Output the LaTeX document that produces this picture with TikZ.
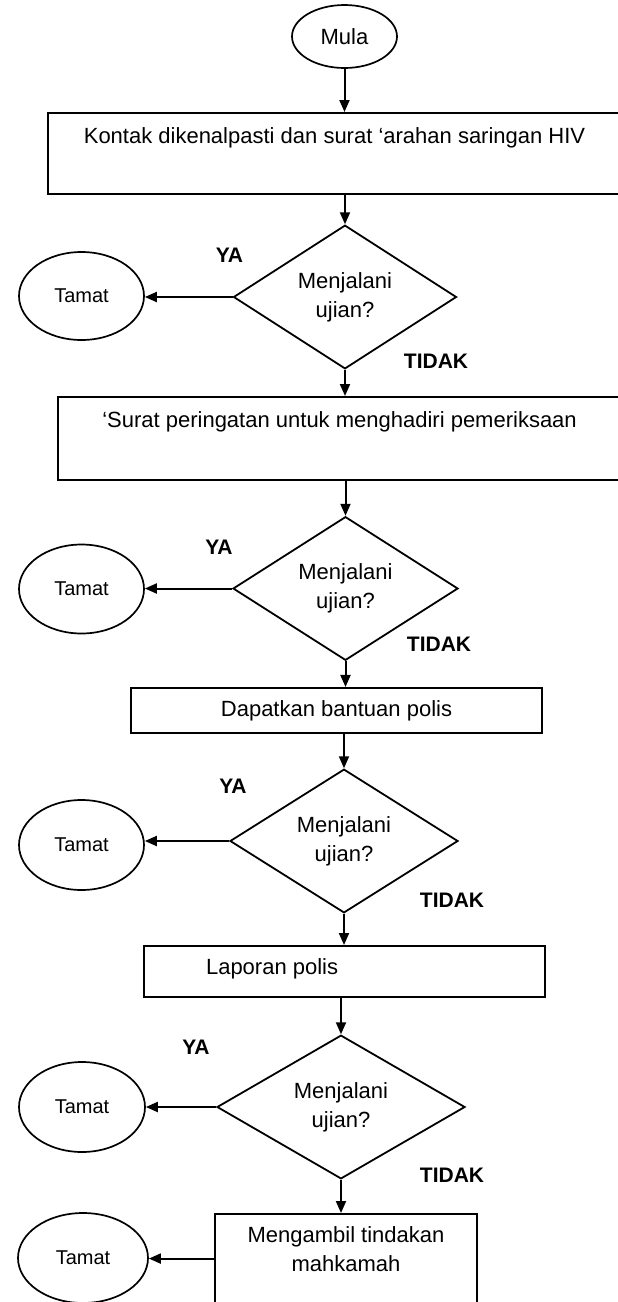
\documentclass[tikz,border=0pt]{standalone}
\usepackage{fontspec}
\setmainfont{Liberation Sans}
\usetikzlibrary{shapes.geometric,arrows.meta,calc}
\begin{document}
\begin{tikzpicture}[x=1pt,y=-1pt,
  ln/.style={line width=2.1pt},
  box/.style={draw, ln, rectangle, inner sep=0pt, font=\fontsize{22}{29}\selectfont},
  term/.style={draw, line width=1.7pt, ellipse, inner sep=0pt, font=\fontsize{20}{24}\selectfont},
  dec/.style={draw, line width=1.8pt, diamond, inner sep=0pt, align=center, font=\fontsize{22}{29}\selectfont},
  lab/.style={font=\bfseries\fontsize{21}{25}\selectfont, inner sep=0pt},
  arr/.style={line width=2pt, -{Triangle[length=12pt,width=10pt]}}]
\useasboundingbox (0,0) rectangle (618,1302);

% start
\node[term, minimum width=105, minimum height=63, font=\fontsize{22}{26}\selectfont] (mula) at (344.5,36.5) {Mula};

% block 1
\node[box, anchor=north west, minimum width=573, text height=30, text depth=51] (r1) at (47,112) {Kontak dikenalpasti dan surat ‘arahan saringan HIV};
\node[dec, minimum width=223, minimum height=124] (d1) at (345,297) {Menjalani\\ujian?};
\node[term, minimum width=125, minimum height=88] (t1) at (81.5,296) {Tamat};
\node[lab] (ya1) at (229.5,255) {YA};
\node[lab] (no1) at (436,361) {TIDAK};

% block 2
\node[box, anchor=north west, minimum width=563, text height=30, text depth=53] (r2) at (57,396) {‘Surat peringatan untuk menghadiri pemeriksaan};
\node[dec, minimum width=225, minimum height=123] (d2) at (345.5,588.5) {Menjalani\\ujian?};
\node[term, minimum width=125, minimum height=89] (t2) at (81.5,589) {Tamat};
\node[lab] (ya2) at (219,547) {YA};
\node[lab] (no2) at (439,644) {TIDAK};

% block 3
\node[box, minimum width=411, minimum height=45] (r3) at (336.5,710.5) {Dapatkan bantuan polis};
\node[dec, minimum width=228, minimum height=124] (d3) at (344,841) {Menjalani\\ujian?};
\node[term, minimum width=125, minimum height=90] (t3) at (81.5,845) {Tamat};
\node[lab] (ya3) at (233,786) {YA};
\node[lab] (no3) at (452,900) {TIDAK};

% block 4
\node[box, anchor=north west, text height=28, text depth=23] (r4) at (143,945) {\makebox[401pt][l]{\hspace*{62pt}Laporan polis}};
\node[dec, minimum width=248, minimum height=134] (d4) at (341,1107) {Menjalani\\ujian?};
\node[term, minimum width=126, minimum height=90] (t4) at (82,1107) {Tamat};
\node[lab] (ya4) at (196,1047) {YA};
\node[lab] (no4) at (452,1175) {TIDAK};

% block 5
\node[draw, ln, rectangle, inner sep=0pt, anchor=north west, minimum width=262, minimum height=89] (r5) at (214,1213) {};
\node[align=center, inner sep=0pt, font=\fontsize{22}{29}\selectfont] (r5txt) at (346,1249.5) {Mengambil tindakan\\mahkamah};
\node[term, minimum width=130, minimum height=90] (t5) at (83,1258) {Tamat};

% connectors
\draw[arr] (mula.south) -- (mula.south |- r1.north);
\draw[arr] (d1.north |- r1.south) -- (d1.north);
\draw[arr] (d1.west) -- (d1.west -| t1.east);
\draw[arr] (d1.south) -- (d1.south |- r2.north);
\draw[arr] (d2.north |- r2.south) -- (d2.north);
\draw[arr] (d2.west) -- (d2.west -| t2.east);
\draw[arr] (d2.south) -- (d2.south |- r3.north);
\draw[arr] (d3.north |- r3.south) -- (d3.north);
\draw[arr] (d3.west) -- (d3.west -| t3.east);
\draw[arr] (d3.south) -- (d3.south |- r4.north);
\draw[arr] (d4.north |- r4.south) -- (d4.north);
\draw[arr] (d4.west) -- (d4.west -| t4.east);
\draw[arr] (d4.south) -- (d4.south |- r5.north);
\draw[arr] (r5.west) -- (r5.west -| t5.east);
\end{tikzpicture}
\end{document}
